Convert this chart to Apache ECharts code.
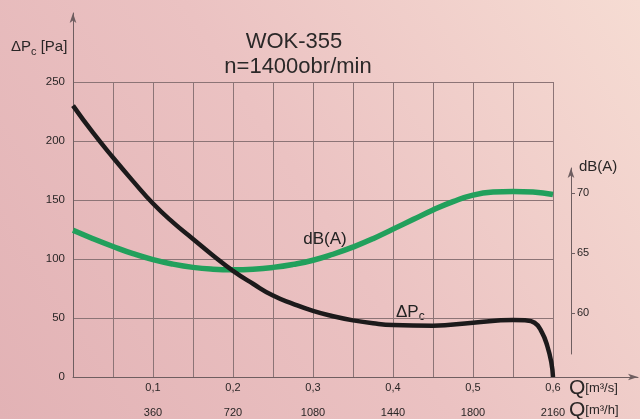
<!DOCTYPE html>
<html><head><meta charset="utf-8">
<script src="https://cdn.jsdelivr.net/npm/echarts@6/dist/echarts.min.js"></script>
<style>html,body{margin:0;padding:0;background:#ebc3c3;}#c{width:640px;height:419px;}</style>
</head><body><div id="c"></div>
<script>
// ΔPc curve: flow Q [m3/s] -> pressure [Pa]
const flowQ    = [0, 0.025, 0.05, 0.075, 0.1, 0.125, 0.15, 0.175, 0.2, 0.225, 0.25, 0.275, 0.3, 0.325, 0.35, 0.375, 0.4, 0.45, 0.5, 0.55, 0.565, 0.577, 0.586, 0.593, 0.598, 0.6];
const pressure = [230, 207, 186, 166, 147, 131, 117, 103, 90, 79, 69, 62, 56, 51.5, 48, 45.5, 44, 43.5, 46, 48.3, 48, 46, 38, 26, 12, 0];
// noise curve: flow Q [m3/s] -> dB(A)
const noiseQ  = [0, 0.025, 0.05, 0.075, 0.1, 0.125, 0.15, 0.175, 0.2, 0.225, 0.25, 0.275, 0.3, 0.325, 0.35, 0.375, 0.4, 0.425, 0.45, 0.475, 0.5, 0.525, 0.55, 0.575, 0.6];
const noiseDb = [66.9, 66.2, 65.55, 64.95, 64.45, 64.07, 63.8, 63.65, 63.6, 63.65, 63.8, 64.05, 64.4, 64.9, 65.5, 66.2, 67.0, 67.8, 68.6, 69.3, 69.85, 70.1, 70.15, 70.1, 69.9];
// tick labels
const qLabelsS = ['0,1', '0,2', '0,3', '0,4', '0,5', '0,6'];
const qLabelsH = ['360', '720', '1080', '1440', '1800', '2160'];
const dbTicks = [60, 65, 70];

const FONT = 'Liberation Sans, Arial, sans-serif';
const gridColor = '#8c7476';
const axisColor = '#6f5e60';
const textColor = '#2a2626';

const chart = echarts.init(document.getElementById('c'), null, {renderer: 'canvas'});
const arrowAxis = {show: true, symbol: ['none', 'arrow'], symbolSize: [5, 10], lineStyle: {color: axisColor, width: 1}};

chart.setOption({
  animation: false,
  backgroundColor: {
    type: 'linear', x: 0, y: 1, x2: 1, y2: 0,
    colorStops: [{offset: 0, color: '#e2b2b5'}, {offset: 0.5, color: '#ebc2c2'}, {offset: 1, color: '#f6dcd3'}]
  },
  grid: [
    {left: 73, right: 87, top: 82, bottom: 42},           // main plot
    {left: 571, width: 1, top: 168, height: 186},         // dB(A) axis
    {left: 73, width: 1, top: 13, bottom: 42},            // left axis line with arrow
    {left: 73, right: 2, height: 1, bottom: 42}           // bottom axis line with arrow
  ],
  xAxis: [
    {
      gridIndex: 0, type: 'value', min: 0, max: 0.6, interval: 0.05,
      axisLine: {show: false}, axisTick: {show: false},
      splitLine: {show: true, lineStyle: {color: gridColor, width: 1}},
      axisLabel: {
        margin: 4, color: textColor, fontFamily: FONT,
        formatter: function (v) {
          const i = Math.round(v * 20);
          if (i > 0 && i % 2 === 0) {
            const k = i / 2 - 1;
            return '{a|' + qLabelsS[k] + '}\n{b|' + qLabelsH[k] + '}';
          }
          return '';
        },
        rich: {
          a: {fontSize: 11, lineHeight: 14, color: textColor, fontFamily: FONT},
          b: {fontSize: 11, lineHeight: 36, color: textColor, fontFamily: FONT}
        }
      }
    },
    {gridIndex: 1, type: 'value', show: false},
    {gridIndex: 2, type: 'value', show: false},
    {gridIndex: 3, type: 'value', min: 0, max: 1, axisLine: arrowAxis, axisTick: {show: false}, axisLabel: {show: false}, splitLine: {show: false}}
  ],
  yAxis: [
    {
      gridIndex: 0, type: 'value', min: 0, max: 250, interval: 50,
      axisLine: {show: false}, axisTick: {show: false},
      splitLine: {show: true, lineStyle: {color: gridColor, width: 1}},
      axisLabel: {margin: 8, fontSize: 11.5, color: textColor, fontFamily: FONT}
    },
    {gridIndex: 0, type: 'value', min: 54.63, max: 79.31, show: false},
    {
      gridIndex: 1, type: 'value', position: 'right', min: 56.55, max: 72.12,
      axisLine: arrowAxis,
      axisTick: {show: true, customValues: dbTicks, length: 4, lineStyle: {color: axisColor}},
      axisLabel: {show: true, customValues: dbTicks, margin: 5, fontSize: 11, color: textColor, fontFamily: FONT},
      splitLine: {show: false}
    },
    {gridIndex: 2, type: 'value', position: 'left', min: 0, max: 1, axisLine: arrowAxis, axisTick: {show: false}, axisLabel: {show: false}, splitLine: {show: false}},
    {gridIndex: 3, type: 'value', show: false}
  ],
  series: [
    {
      name: 'dB(A)', type: 'line', xAxisIndex: 0, yAxisIndex: 1,
      data: noiseQ.map((q, i) => [q, noiseDb[i]]),
      smooth: 0.5, showSymbol: false,
      lineStyle: {color: '#22a05c', width: 5.5}, z: 3
    },
    {
      name: 'ΔPc', type: 'line', xAxisIndex: 0, yAxisIndex: 0,
      data: flowQ.map((q, i) => [q, pressure[i]]),
      smooth: 0.5, showSymbol: false,
      lineStyle: {color: '#1c1a1b', width: 4.5}, z: 4
    }
  ],
  graphic: [
    {type: 'text', x: 294, y: 42, style: {text: 'WOK-355', fontSize: 22, fontFamily: FONT, fill: '#2b2828', align: 'center', verticalAlign: 'middle'}},
    {type: 'text', x: 298, y: 67, style: {text: 'n=1400obr/min', fontSize: 22, fontFamily: FONT, fill: '#2b2828', align: 'center', verticalAlign: 'middle'}},
    {type: 'text', x: 11, y: 47, style: {
      text: '{a|ΔP}{s|c}{a| [Pa]}', fontFamily: FONT, fill: textColor, align: 'left', verticalAlign: 'middle',
      rich: {a: {fontSize: 15, lineHeight: 20, verticalAlign: 'middle', fontFamily: FONT, fill: textColor},
             s: {fontSize: 11, lineHeight: 11, verticalAlign: 'bottom', fontFamily: FONT, fill: textColor}}
    }},
    {type: 'text', x: 325, y: 239, style: {text: 'dB(A)', fontSize: 17, fontFamily: FONT, fill: '#222', align: 'center', verticalAlign: 'middle'}},
    {type: 'text', x: 396, y: 312, style: {
      text: '{a|ΔP}{s|c}', fontFamily: FONT, fill: '#222', align: 'left', verticalAlign: 'middle',
      rich: {a: {fontSize: 17, lineHeight: 22, verticalAlign: 'middle', fontFamily: FONT, fill: '#222'},
             s: {fontSize: 12, lineHeight: 12, verticalAlign: 'bottom', fontFamily: FONT, fill: '#222'}}
    }},
    {type: 'text', x: 579, y: 167, style: {text: 'dB(A)', fontSize: 15, fontFamily: FONT, fill: textColor, align: 'left', verticalAlign: 'middle'}},
    {type: 'text', x: 569, y: 388, style: {
      text: '{q|Q}{u|[m³/s]}', fontFamily: FONT, fill: textColor, align: 'left', verticalAlign: 'middle',
      rich: {q: {fontSize: 21, fontFamily: FONT, fill: textColor}, u: {fontSize: 13, fontFamily: FONT, fill: textColor}}
    }},
    {type: 'text', x: 569, y: 410, style: {
      text: '{q|Q}{u|[m³/h]}', fontFamily: FONT, fill: textColor, align: 'left', verticalAlign: 'middle',
      rich: {q: {fontSize: 21, fontFamily: FONT, fill: textColor}, u: {fontSize: 13, fontFamily: FONT, fill: textColor}}
    }}
  ]
});
</script>
</body></html>
